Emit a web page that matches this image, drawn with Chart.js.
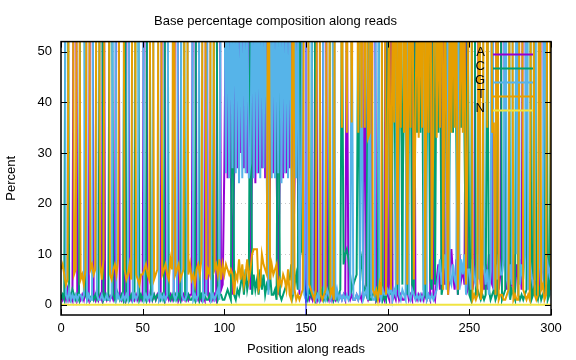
<!DOCTYPE html>
<html>
<head>
<meta charset="utf-8">
<script src="https://cdn.jsdelivr.net/npm/chart.js@4"></script>
<style>
  html, body { margin: 0; padding: 0; background: #fff; }
</style>
</head>
<body>
<canvas id="chart" width="576" height="360"></canvas>
<script>
// positions 0..300 along the read
const positions = [];
for (let i = 0; i <= 300; i++) positions.push(i);

const yTicks = [0, 10, 20, 30, 40, 50];
const xTicks = [0, 50, 100, 150, 200, 250, 300];

const baseA = [
  2,1,2,1,3,1,2,1,91,93, 1,2,1,2,1,3,2,1,92,90, 2,1,3,1,2,1,93,2,1,2,
  1,2,1,2,92,90,2,1,2,1, 93,91,2,1,2,1,2,1,2,1, 2,92,90,2,1,3,1,2,1,2,
  1,2,91,93,1,2,1,2,1,2, 92,94,1,2,1,2,1,2,1,2, 2,93,91,2,1,2,1,2,1,90,
  2,1,2,1,2,1,93,92,3,4, 27,64,25,66,28,2,26,67,27,62, 30,66,27,65,26,68,3,28,67,24,
  66,26,68,27,64,25,66,3,26,65, 26,63,27,2,28,67,25,64,26,62, 27,66,3,25,68,26,2,65,28,3,
  1,2,1,2,1,3,92,1,2,1, 2,93,90,2,1,3,1,2,1,2, 1,2,1,2,1,60,2,1,2,1,
  1,2,1,2,1,3,60,2,1,2, 2,90,92,1,2,1,3,2,1,92, 2,1,90,1,2,1,3,1,2,1,
  1,2,3,1,2,1,91,2,1,2, 1,2,1,3,1,2,1,90,2,1, 5,8,3,10,90,4,9,2,7,11,
  6,3,9,2,10,5,7,4,60,3, 4,9,3,6,92,90,8,4,7,3, 8,3,10,5,4,91,93,9,3,6,
  90,92,9,3,7,5,4,10,3,8, 5,9,3,92,90,10,6,3,4,7, 10,4,8,3,93,91,2,9,5,3,
  4
];

const baseC = [
  1,2,1,92,90,2,1,3,2,1, 2,1,93,95,91,2,1,2,1,2, 1,2,1,2,92,94,1,2,1,1,
  93,91,2,1,3,2,1,2,1,92, 1,2,1,2,1,2,92,94,1,2, 1,2,1,91,93,2,1,2,1,2,
  2,1,2,1,92,90,2,1,2,1, 2,1,2,1,91,93,2,1,2,1, 1,2,1,94,92,1,2,1,2,1,
  1,2,1,2,93,90,1,2,2,1, 1,2,3,2,1,65,2,1,3,2, 4,6,2,7,3,5,62,2,6,3,
  5,2,7,3,6,2,4,3,6,2, 2,3,1,68,2,1,2,3,4,5, 5,8,2,4,6,3,93,11,10,4,
  2,1,3,2,91,93,1,2,1,2, 3,1,2,1,2,92,91,1,2,1, 2,3,62,8,10,11,9,6,3,4,
  5,6,61,7,9,4,3,2,63,1, 1,2,3,1,2,93,94,1,2,1, 62,34,2,35,60,5,3,33,61,4,
  63,35,2,34,62,4,3,60,34,64, 34,62,3,2,33,63,5,3,61,4, 62,34,63,2,4,35,60,3,33,61,
  34,63,33,2,62,35,61,34,3,64, 2,1,91,94,2,3,2,1,2,1, 2,60,3,1,2,3,1,2,92,93,
  1,2,3,93,95,1,3,2,1,92, 2,1,2,1,2,3,93,92,1,2, 91,2,1,3,1,2,3,94,1,2,
  43
];

const baseG = [
  94,92,90,2,1,3,1,2,1,2, 1,2,2,1,2,94,1,2,1,1, 92,90,2,1,1,2,1,1,2,1,
  1,2,89,93,1,2,1,1,2,1, 2,1,90,92,1,2,1,2,94,93, 91,1,2,1,2,1,2,92,95,93,
  1,2,1,2,1,2,93,95,92,2, 1,2,95,94,2,1,1,2,96,93, 93,1,2,1,2,95,92,1,2,2,
  94,92,1,2,1,2,3,1,90,70, 66,26,68,25,64,27,70,26,65,24, 63,25,67,26,64,25,28,66,25,69,
  26,70,25,65,27,66,24,2,68,25, 67,25,64,26,69,24,66,26,63,25, 65,26,2,67,25,64,3,26,62,2,
  1,2,93,95,3,2,1,2,1,94, 95,2,1,3,2,1,2,94,1,3, 1,2,1,2,1,2,1,2,60,1,
  1,2,1,2,62,1,2,3,1,64, 2,1,1,92,95,2,1,3,2,2, 3,2,4,1,3,2,92,2,1,3,
  2,1,93,2,1,3,2,1,2,1, 2,1,2,92,1,2,1,2,1,2, 3,6,9,4,7,10,3,92,5,4,
  8,5,4,92,3,9,6,10,2,7, 7,3,9,5,4,10,5,95,93,8, 4,7,2,6,94,3,8,5,10,6,
  6,9,91,5,3,8,4,93,94,10, 92,4,8,5,10,93,3,9,6,4, 5,90,92,9,3,10,92,4,8,6,
  8
];

const baseT = [
  7,8,6,4,5,93,95,92,6,7, 95,94,5,6,4,7,96,93,7,8, 6,7,95,97,8,5,9,96,94,97,
  6,5,7,8,6,9,95,96,94,7, 5,6,8,5,97,95,6,5,4,6, 6,7,8,6,5,95,96,5,6,7,
  96,95,6,7,8,6,5,9,7,95, 6,7,8,5,6,7,96,94,6,8, 5,6,4,7,8,6,9,95,96,5,
  7,6,96,95,7,8,6,9,5,8, 6,8,7,6,7,6,2,6,5,9, 5,8,4,6,9,5,7,10,11,11,
  11,3,4,10,8,7,6,92,5,8, 6,7,8,3,5,4,6,5,3,7, 2,1,92,3,1,2,1,2,3,90,
  95,96,4,3,2,1,3,97,95,2, 1,2,3,96,94,2,3,1,97,93, 92,95,35,96,93,34,97,94,36,95,
  96,92,34,95,35,97,35,94,33,34, 94,3,2,3,1,4,2,96,97,2, 34,63,3,61,36,92,4,64,35,93,
  34,62,4,63,35,94,5,36,63,33, 63,35,95,4,64,34,93,5,35,96, 33,61,35,95,3,62,34,2,64,34,
  62,35,64,3,33,61,34,63,4,35, 95,96,1,2,1,2,93,1,3,94, 96,35,95,97,34,36,2,94,1,2,
  2,1,1,2,3,96,97,1,2,1, 1,95,97,3,2,1,2,1,96,95, 2,1,2,95,3,4,1,2,97,96,
  3
];

const baseN = [
  0,0,0,0,0,0,0,0,0,0, 0,0,0,0,0,0,0,0,0,0, 0,0,0,0,0,0,0,0,0,0,
  0,0,0,0,0,0,0,0,0,0, 0,0,0,0,0,0,0,0,0,0, 0,0,0,0,0,0,0,0,0,0,
  0,0,0,0,0,0,0,0,0,0, 0,0,0,0,0,0,0,0,0,0, 0,0,0,0,0,0,0,0,0,0,
  0,0,0,0,0,0,0,0,0,0, 0,0,0,0,0,0,0,0,0,0, 0,0,0,0,0,0,0,0,0,0,
  0,0,0,0,0,0,0,0,0,0, 0,0,0,0,0,0,0,0,0,0, 0,0,0,0,0,0,0,0,0,0,
  0,0,0,0,0,0,0,0,0,0, 0,0,0,0,0,0,0,0,0,0, 0,0,0,0,0,0,0,0,0,0,
  0,0,0,0,0,0,0,0,0,0, 0,0,0,0,0,0,0,0,0,0, 0,0,0,0,0,0,0,0,0,0,
  0,0,0,0,0,0,0,0,0,0, 0,0,0,0,0,0,0,0,0,0, 0,0,0,0,0,0,0,0,0,0,
  0,0,0,0,0,0,0,0,0,0, 0,0,0,0,0,0,0,0,0,0, 0,0,0,0,0,0,0,0,0,0,
  0,0,0,0,0,0,0,0,0,0, 0,0,0,0,0,0,0,0,0,0, 0,0,0,0,0,0,0,0,0,0,
  0
];

// read boundary marker (paired reads)
const markerX = 150;
const markerY = [-2, 52];

const seriesNames = ["A", "C", "G", "T", "N"];
const seriesColors = ["#9400D3", "#009E73", "#56B4E9", "#E69F00", "#F0E442"];
const seriesData = [baseA, baseC, baseG, baseT, baseN];

const FONT = "'Liberation Sans', Arial, sans-serif";

// 📌 frame, inward ticks and legend like gnuplot
const gnuFrame = {
  id: "gnuFrame",
  afterDatasetsDraw(chart) {
    const ctx = chart.ctx;
    const a = chart.chartArea;
    const xs = chart.scales.x;
    const ys = chart.scales.y;
    ctx.save();
    ctx.strokeStyle = "#000";
    ctx.lineWidth = 1;
    ctx.beginPath();
    yTicks.forEach((v) => {
      const py = Math.round(ys.getPixelForValue(v)) + 0.5;
      ctx.moveTo(a.left, py); ctx.lineTo(a.left + 6, py);
      ctx.moveTo(a.right, py); ctx.lineTo(a.right - 6, py);
    });
    xTicks.forEach((v) => {
      const px = Math.round(xs.getPixelForValue(v)) + 0.5;
      ctx.moveTo(px, a.bottom); ctx.lineTo(px, a.bottom - 6);
      ctx.moveTo(px, a.top); ctx.lineTo(px, a.top + 6);
    });
    ctx.stroke();

    // legend (key) top right
    ctx.font = "13px " + FONT;
    ctx.textAlign = "right";
    ctx.textBaseline = "middle";
    seriesNames.forEach((name, i) => {
      const y = a.top + 11 + i * 14;
      ctx.fillStyle = "#000";
      ctx.fillText(name, a.right - 66, y);
      ctx.strokeStyle = seriesColors[i];
      ctx.lineWidth = 2;
      ctx.beginPath();
      ctx.moveTo(a.right - 58, y + 2);
      ctx.lineTo(a.right - 18, y + 2);
      ctx.stroke();
    });

    ctx.strokeStyle = "#000";
    ctx.lineWidth = 1.5;
    ctx.strokeRect(a.left, a.top, a.right - a.left, a.bottom - a.top);
    ctx.restore();
  }
};

const datasets = seriesNames.map((name, i) => ({
  label: name,
  data: seriesData[i],
  borderColor: seriesColors[i],
  backgroundColor: seriesColors[i],
  borderWidth: 2,
  pointRadius: 0,
  tension: 0,
  order: 5 - i
}));

datasets.push({
  label: "marker",
  data: markerY.map((v) => ({ x: markerX, y: v })),
  borderColor: "#0000FF",
  borderWidth: 1,
  pointRadius: 0,
  order: 0
});

new Chart(document.getElementById("chart"), {
  type: "line",
  data: { labels: positions, datasets: datasets },
  options: {
    responsive: false,
    animation: false,
    layout: { padding: { left: 0, right: 25, top: 0, bottom: 0 } },
    plugins: {
      legend: { display: false },
      tooltip: { enabled: false },
      title: {
        display: true,
        text: "Base percentage composition along reads",
        color: "#000",
        font: { family: FONT, size: 13, weight: "normal" },
        padding: { top: 14, bottom: 12 }
      }
    },
    scales: {
      x: {
        type: "linear",
        min: 0,
        max: 300,
        afterBuildTicks: (s) => { s.ticks = xTicks.map((v) => ({ value: v })); },
        afterFit: (s) => { s.height = 45; },
        grid: { display: false, drawTicks: false },
        border: { display: false },
        ticks: { color: "#000", padding: 6, maxRotation: 0, font: { family: FONT, size: 13 } },
        title: {
          display: true,
          text: "Position along reads",
          color: "#000",
          font: { family: FONT, size: 13 },
          padding: { top: 2, bottom: 3 }
        }
      },
      y: {
        min: -2,
        max: 52,
        afterBuildTicks: (s) => { s.ticks = yTicks.map((v) => ({ value: v })); },
        afterFit: (s) => { s.width = 61; },
        grid: { color: "#c8c8c8", lineWidth: 1, drawTicks: false },
        border: { display: false, dash: [1, 3] },
        ticks: { color: "#000", padding: 9, font: { family: FONT, size: 13 } },
        title: {
          display: true,
          text: "Percent",
          color: "#000",
          font: { family: FONT, size: 13 },
          padding: { top: 4, bottom: 4 }
        }
      }
    }
  },
  plugins: [gnuFrame]
});
</script>
</body>
</html>
